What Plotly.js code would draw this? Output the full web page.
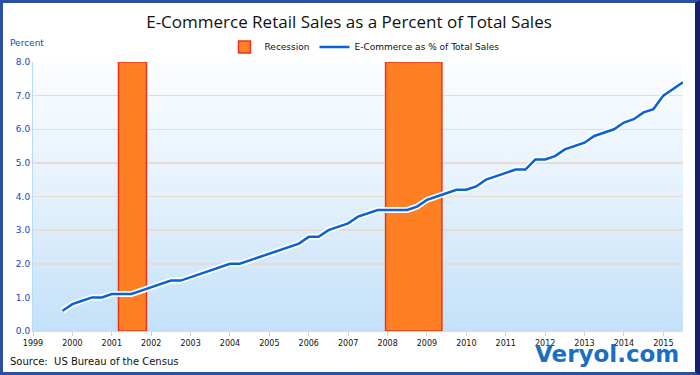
<!DOCTYPE html>
<html>
<head>
<meta charset="utf-8">
<script src="https://cdn.plot.ly/plotly-3.0.1.min.js"></script>
<style>
  html, body { margin: 0; padding: 0; background: #fff; }
  #frame { position: relative; width: 700px; height: 375px; box-sizing: border-box;
           border: 3px solid #2b4fa3; border-right: 5px solid #16206e; background: #fff; }
  #bg { position: absolute; left: 30px; top: 59px; width: 650px; height: 269px;
        background: linear-gradient(to bottom, #fbfdff 0%, #e6f2fd 45%, #c4e1f9 100%); }
  #chart { position: absolute; left: 0; top: 0; width: 692px; height: 369px; }
</style>
</head>
<body>
<div id="frame"><div id="bg"></div><div id="chart"></div></div>
<script>
// Quarterly e-commerce share of total retail sales (%), Q4 1999 .. Q3 2015
const quarters = [
  1999.75,
  2000.00, 2000.25, 2000.50, 2000.75,
  2001.00, 2001.25, 2001.50, 2001.75,
  2002.00, 2002.25, 2002.50, 2002.75,
  2003.00, 2003.25, 2003.50, 2003.75,
  2004.00, 2004.25, 2004.50, 2004.75,
  2005.00, 2005.25, 2005.50, 2005.75,
  2006.00, 2006.25, 2006.50, 2006.75,
  2007.00, 2007.25, 2007.50, 2007.75,
  2008.00, 2008.25, 2008.50, 2008.75,
  2009.00, 2009.25, 2009.50, 2009.75,
  2010.00, 2010.25, 2010.50, 2010.75,
  2011.00, 2011.25, 2011.50, 2011.75,
  2012.00, 2012.25, 2012.50, 2012.75,
  2013.00, 2013.25, 2013.50, 2013.75,
  2014.00, 2014.25, 2014.50, 2014.75,
  2015.00, 2015.25, 2015.50
];
const ecomShare = [
  0.6,
  0.8, 0.9, 1.0, 1.0,
  1.1, 1.1, 1.1, 1.2,
  1.3, 1.4, 1.5, 1.5,
  1.6, 1.7, 1.8, 1.9,
  2.0, 2.0, 2.1, 2.2,
  2.3, 2.4, 2.5, 2.6,
  2.8, 2.8, 3.0, 3.1,
  3.2, 3.4, 3.5, 3.6,
  3.6, 3.6, 3.6, 3.7,
  3.9, 4.0, 4.1, 4.2,
  4.2, 4.3, 4.5, 4.6,
  4.7, 4.8, 4.8, 5.1,
  5.1, 5.2, 5.4, 5.5,
  5.6, 5.8, 5.9, 6.0,
  6.2, 6.3, 6.5, 6.6,
  7.0, 7.2, 7.4
];
// Recession periods (fractional years)
const recessionStart = [2001.17, 2007.95];
const recessionEnd   = [2001.88, 2009.38];
const recessionTop   = [8, 8];
const yearTicks = [1999,2000,2001,2002,2003,2004,2005,2006,2007,2008,2009,2010,2011,2012,2013,2014,2015];
const percentTicks = [0,1,2,3,4,5,6,7,8];

const recCenters = recessionStart.map((s,i) => (s + recessionEnd[i]) / 2);
const recWidths  = recessionStart.map((s,i) => recessionEnd[i] - s);

const traces = [
  {
    type: 'bar', name: 'Recession',
    x: recCenters, y: recessionTop, width: recWidths, base: 0,
    marker: { color: '#ff8024', line: { color: '#e8341a', width: 1.5 } },
    hoverinfo: 'skip'
  },
  {
    type: 'scatter', mode: 'lines', name: 'halo', showlegend: false,
    x: quarters, y: ecomShare,
    line: { color: '#ffffff', width: 6 }, hoverinfo: 'skip'
  },
  {
    type: 'scatter', mode: 'lines', name: 'E-Commerce as % of Total Sales',
    x: quarters, y: ecomShare,
    line: { color: '#0a62d6', width: 2.5 }
  }
];

const layout = {
  width: 692, height: 369,
  margin: { l: 30, r: 12, t: 59, b: 41 },
  paper_bgcolor: 'rgba(0,0,0,0)',
  plot_bgcolor: 'rgba(0,0,0,0)',
  font: { family: 'DejaVu Sans, sans-serif', size: 9, color: '#000' },
  title: {
    text: 'E-Commerce Retail Sales as a Percent of Total Sales',
    font: { family: 'Open Sans, sans-serif', size: 17, color: '#111' },
    x: 0.5, xanchor: 'center', y: 0.948, yanchor: 'middle', yref: 'container'
  },
  showlegend: true,
  legend: {
    orientation: 'h', x: 0.51, xanchor: 'center', y: 1.056, yanchor: 'middle',
    font: { family: 'DejaVu Sans, sans-serif', size: 9, color: '#111' },
    traceorder: 'normal', itemwidth: 30, bgcolor: 'rgba(0,0,0,0)'
  },
  xaxis: {
    range: [1999, 2015.5], tickvals: yearTicks, ticktext: yearTicks.map(String),
    showgrid: false, zeroline: false,
    showline: true, linecolor: '#e3d6cc', linewidth: 1,
    ticks: 'outside', ticklen: 4, tickcolor: '#d8cfc6',
    tickfont: { family: 'DejaVu Sans, sans-serif', size: 8, color: '#111' },
    fixedrange: true
  },
  yaxis: {
    range: [0, 8], tickvals: percentTicks, tickformat: '.1f',
    showgrid: true, gridcolor: '#e6dcd2', gridwidth: 1.5,
    zeroline: false, showline: true, linecolor: '#b8dcf7', linewidth: 1,
    ticks: '', tickfont: { family: 'DejaVu Sans, sans-serif', size: 9, color: '#1446c2' },
    fixedrange: true
  },
  bargap: 0,
  annotations: [
    { text: 'Percent', xref: 'paper', yref: 'paper', x: -0.039, y: 1.07,
      xanchor: 'left', yanchor: 'middle', showarrow: false,
      font: { family: 'DejaVu Sans, sans-serif', size: 9, color: '#1446c2' } },
    { text: 'Source:  US Bureau of the Census', xref: 'paper', yref: 'paper', x: -0.039, y: -0.115,
      xanchor: 'left', yanchor: 'middle', showarrow: false,
      font: { family: 'DejaVu Sans, sans-serif', size: 10, color: '#111' } },
    { text: '<b>Veryol.com</b>', xref: 'paper', yref: 'paper', x: 0.997, y: -0.085,
      xanchor: 'right', yanchor: 'middle', showarrow: false,
      font: { family: 'DejaVu Sans, sans-serif', size: 23, color: '#1c6ec2' } }
  ]
};

Plotly.newPlot('chart', traces, layout, { displayModeBar: false, staticPlot: true });
</script>
</body>
</html>
